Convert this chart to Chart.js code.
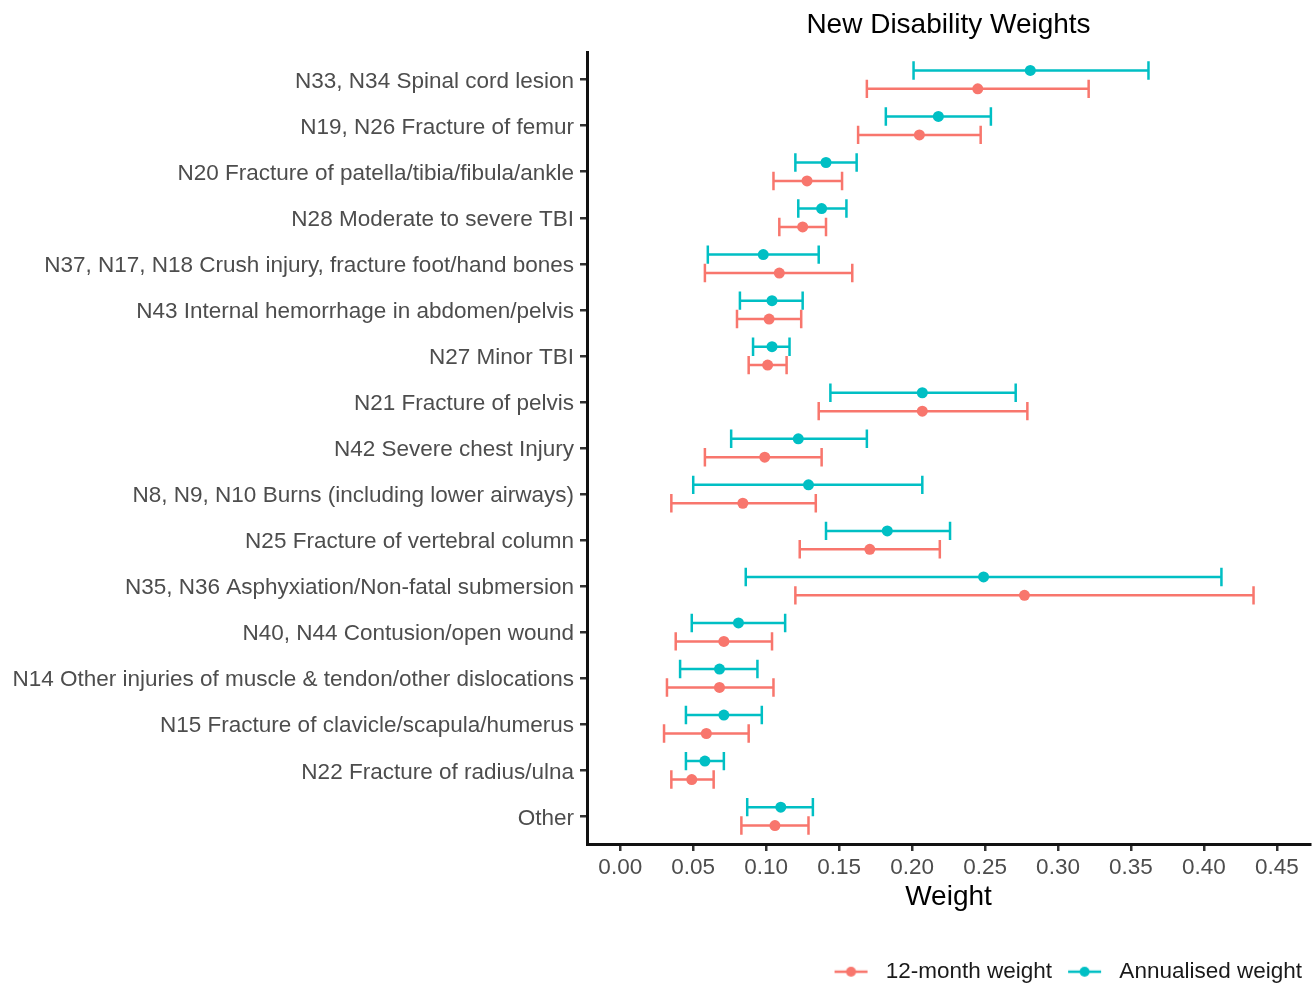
<!DOCTYPE html>
<html>
<head>
<meta charset="utf-8">
<title>New Disability Weights</title>
<script src="https://cdn.jsdelivr.net/npm/chart.js@4/dist/chart.umd.min.js"></script>
<style>
    html, body { margin: 0; padding: 0; background: #ffffff; }
    #wrap { width: 1316px; height: 985px; position: relative; }
</style>
</head>
<body>
<div id="wrap"><canvas id="chart"></canvas></div>
<script>
// categories, top to bottom
const categories = [
    'N33, N34 Spinal cord lesion',
    'N19, N26 Fracture of femur',
    'N20 Fracture of patella/tibia/fibula/ankle',
    'N28 Moderate to severe TBI',
    'N37, N17, N18 Crush injury, fracture foot/hand bones',
    'N43 Internal hemorrhage in abdomen/pelvis',
    'N27 Minor TBI',
    'N21 Fracture of pelvis',
    'N42 Severe chest Injury',
    'N8, N9, N10 Burns (including lower airways)',
    'N25 Fracture of vertebral column',
    'N35, N36 Asphyxiation/Non-fatal submersion',
    'N40, N44 Contusion/open wound',
    'N14 Other injuries of muscle & tendon/other dislocations',
    'N15 Fracture of clavicle/scapula/humerus',
    'N22 Fracture of radius/ulna',
    'Other'
];

// 12-month weight
const monthMean = [0.245, 0.205, 0.128, 0.125, 0.109, 0.102, 0.101, 0.207, 0.099, 0.084, 0.171, 0.277, 0.071, 0.068, 0.059, 0.049, 0.106];
const monthLow  = [0.169, 0.163, 0.105, 0.109, 0.058, 0.080, 0.088, 0.136, 0.058, 0.035, 0.123, 0.120, 0.038, 0.032, 0.030, 0.035, 0.083];
const monthHigh = [0.321, 0.247, 0.152, 0.141, 0.159, 0.124, 0.114, 0.279, 0.138, 0.134, 0.219, 0.434, 0.104, 0.105, 0.088, 0.064, 0.129];

// annualised weight
const annualMean = [0.281, 0.218, 0.141, 0.138, 0.098, 0.104, 0.104, 0.207, 0.122, 0.129, 0.183, 0.249, 0.081, 0.068, 0.071, 0.058, 0.110];
const annualLow  = [0.201, 0.182, 0.120, 0.122, 0.060, 0.082, 0.091, 0.144, 0.076, 0.050, 0.141, 0.086, 0.049, 0.041, 0.045, 0.045, 0.087];
const annualHigh = [0.362, 0.254, 0.162, 0.155, 0.136, 0.125, 0.116, 0.271, 0.169, 0.207, 0.226, 0.412, 0.113, 0.094, 0.097, 0.071, 0.132];

const xTicks = [0, 0.05, 0.10, 0.15, 0.20, 0.25, 0.30, 0.35, 0.40, 0.45];

const RED = '#F8766D';
const CYAN = '#00BFC4';
const FONT = "'Liberation Sans', Arial, sans-serif";
const DODGE = 0.2;   // vertical offset of each series within its category
const CAP = 0.2;     // half height of error bar caps, in category units

function toPoints(means, offset) {
    return means.map((m, i) => ({ x: m, y: i + offset }));
}

// small legend key: line with a dot in the middle
function legendKey(color) {
    const c = document.createElement('canvas');
    c.width = 48;
    c.height = 14;
    const g = c.getContext('2d');
    g.strokeStyle = color;
    g.lineWidth = 2.5;
    g.beginPath();
    g.moveTo(8, 7);
    g.lineTo(41, 7);
    g.stroke();
    g.fillStyle = color;
    g.beginPath();
    g.arc(24.5, 7, 5, 0, Math.PI * 2);
    g.fill();
    return c;
}

const errorBars = {
    id: 'errorBars',
    beforeDatasetsDraw(chart) {
        const { ctx, scales: { x, y } } = chart;
        chart.data.datasets.forEach((ds) => {
            ctx.save();
            ctx.strokeStyle = ds.borderColor;
            ctx.lineWidth = 2.5;
            ds.lows.forEach((lo, i) => {
                const yv = i + ds.offset;
                const py = y.getPixelForValue(yv);
                const capTop = y.getPixelForValue(yv - CAP);
                const capBot = y.getPixelForValue(yv + CAP);
                const x0 = x.getPixelForValue(lo);
                const x1 = x.getPixelForValue(ds.highs[i]);
                ctx.beginPath();
                ctx.moveTo(x0, py); ctx.lineTo(x1, py);
                ctx.moveTo(x0, capTop); ctx.lineTo(x0, capBot);
                ctx.moveTo(x1, capTop); ctx.lineTo(x1, capBot);
                ctx.stroke();
            });
            ctx.restore();
        });
    }
};

const plotTitle = {
    id: 'plotTitle',
    afterDraw(chart) {
        const { ctx, chartArea } = chart;
        ctx.save();
        ctx.font = '28px ' + FONT;
        ctx.fillStyle = '#000000';
        ctx.textAlign = 'center';
        ctx.textBaseline = 'middle';
        ctx.fillText('New Disability Weights', (chartArea.left + chartArea.right) / 2, 25);
        ctx.restore();
    }
};

const ctx = document.getElementById('chart').getContext('2d');
new Chart(ctx, {
    type: 'scatter',
    data: {
        datasets: [{
            label: '12-month weight',
            data: toPoints(monthMean, DODGE),
            lows: monthLow,
            highs: monthHigh,
            offset: DODGE,
            backgroundColor: RED,
            borderColor: RED,
            pointRadius: 5.5,
            pointBorderWidth: 0
        }, {
            label: 'Annualised weight',
            data: toPoints(annualMean, -DODGE),
            lows: annualLow,
            highs: annualHigh,
            offset: -DODGE,
            backgroundColor: CYAN,
            borderColor: CYAN,
            pointRadius: 5.5,
            pointBorderWidth: 0
        }]
    },
    options: {
        responsive: true,
        maintainAspectRatio: false,
        animation: false,
        events: [],
        layout: { padding: { top: 52, left: 0, right: 6, bottom: -8 } },
        plugins: {
            tooltip: { enabled: false },
            legend: {
                position: 'bottom',
                align: 'end',
                labels: {
                    usePointStyle: true,
                    pointStyleWidth: 48,
                    padding: 8,
                    color: '#1a1a1a',
                    font: { family: FONT, size: 22.5 },
                    generateLabels(chart) {
                        const items = Chart.defaults.plugins.legend.labels.generateLabels(chart);
                        items.forEach((item) => {
                            item.pointStyle = legendKey(chart.data.datasets[item.datasetIndex].borderColor);
                        });
                        return items;
                    }
                }
            }
        },
        scales: {
            x: {
                type: 'linear',
                min: -0.0228,
                max: 0.4727,
                afterBuildTicks(scale) {
                    scale.ticks = xTicks.map((v) => ({ value: v }));
                },
                afterFit(scale) { scale.height = 108.5; },
                grid: { drawOnChartArea: false, drawTicks: true, tickLength: 7, color: '#333333', lineWidth: 2.5 },
                border: { display: true, color: '#111111', width: 3 },
                ticks: {
                    autoSkip: false,
                    maxRotation: 0,
                    padding: 3,
                    color: '#4d4d4d',
                    font: { family: FONT, size: 22.5 },
                    callback: (v) => Number(v).toFixed(2)
                },
                title: {
                    display: true,
                    text: 'Weight',
                    color: '#000000',
                    font: { family: FONT, size: 28 },
                    padding: { top: 4, bottom: 38 }
                }
            },
            y: {
                type: 'linear',
                reverse: true,
                min: -0.6,
                max: categories.length - 0.4,
                afterBuildTicks(scale) {
                    scale.ticks = categories.map((c, i) => ({ value: i }));
                },
                afterFit(scale) { scale.width = 587; },
                grid: { drawOnChartArea: false, drawTicks: true, tickLength: 7, color: '#333333', lineWidth: 2.5 },
                border: { display: true, color: '#111111', width: 3 },
                ticks: {
                    autoSkip: false,
                    padding: 6,
                    labelOffset: 2,
                    color: '#4d4d4d',
                    font: { family: FONT, size: 22.5 },
                    callback: (v) => categories[v]
                }
            }
        }
    },
    plugins: [errorBars, plotTitle]
});
</script>
</body>
</html>
